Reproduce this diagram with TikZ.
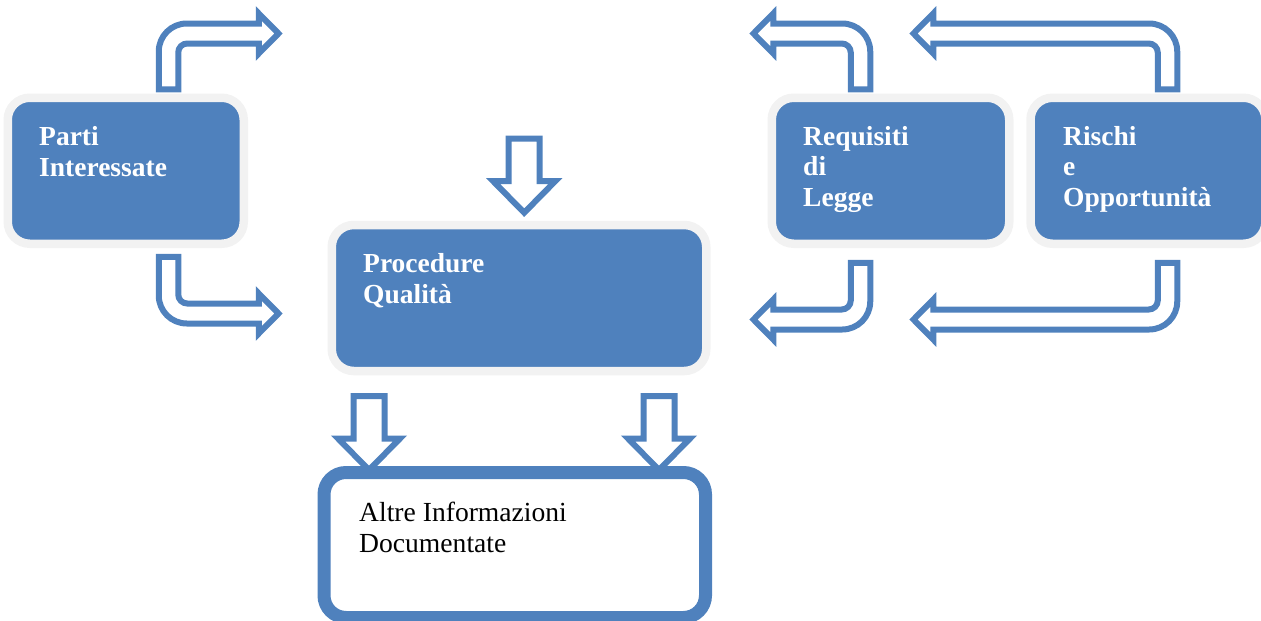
\documentclass[tikz,border=0pt]{standalone}
\usepackage{fontspec}
\setmainfont{Liberation Serif}
\definecolor{ofblue}{HTML}{4F81BD}
\definecolor{halo}{HTML}{F2F2F2}
\tikzset{
  fillbox/.style={rectangle, rounded corners=22pt, fill=ofblue, draw=halo,
    line width=8.5pt, minimum height=146pt, inner sep=0pt},
  docbox/.style={rectangle, rounded corners=22pt, fill=white, draw=ofblue,
    line width=13pt, inner sep=0pt},
  blockarrow/.style={draw=ofblue, fill=white, line width=6pt, line join=miter},
  % labels are placed by the baseline of their last line
  boxtext/.style={text=white, font=\bfseries\fontsize{27.5}{30.5}\selectfont,
    align=left, inner sep=0pt, anchor=base west},
  doctext/.style={text=black, font=\fontsize{27.6}{31}\selectfont,
    align=left, inner sep=0pt, anchor=base west},
  downarrow/.pic={
    \draw[blockarrow] (-15.5,0) -- (15.5,0) -- (15.5,42.5) -- (31,42.5)
      -- (0,74) -- (-31,42.5) -- (-15.5,42.5) -- cycle;
  }
}
\begin{document}
\begin{tikzpicture}[x=1pt, y=-1pt]
\useasboundingbox (0,0) rectangle (1261,621);

% boxes
\node[fillbox, minimum width=236pt]   (parti) at (125.75,170.75) {};
\node[fillbox, minimum width=374.5pt] (proc)  at (519,298) {};
\node[fillbox, minimum width=237.5pt] (req)   at (890.5,170.75) {};
\node[fillbox, minimum width=235pt]   (risk)  at (1148,170.75) {};

% labels
\node[boxtext] (tparti) at (39,176)   {Parti\\Interessate};
\node[boxtext] (tproc)  at (363,303)  {Procedure\\Qualità};
\node[boxtext] (treq)   at (803,206)  {Requisiti\\di\\Legge};
\node[boxtext] (trisk)  at (1063,206) {Rischi\\e\\Opportunità};

% bent arrows, left side
\draw[blockarrow] (178.25,89.25) -- (158.75,89.25) -- (158.75,51.5)
  .. controls (158.75,36.04) and (171.29,23.5) .. (186.75,23.5)
  -- (258.75,23.5) -- (258.75,13.5) -- (278.5,33.5) -- (258.75,53.5)
  -- (258.75,43.5) -- (187.25,43.5)
  .. controls (182.28,43.5) and (178.25,47.53) .. (178.25,52.5) -- cycle;
\draw[blockarrow] (158.75,256.75) -- (178.25,256.75) -- (178.25,294.5)
  .. controls (178.25,299.5) and (182.3,303.5) .. (187.25,303.5)
  -- (258.75,303.5) -- (258.75,293.5) -- (278.5,313.5) -- (258.75,333.5)
  -- (258.75,323.5) -- (186.75,323.5)
  .. controls (171.3,323.5) and (158.75,311) .. (158.75,295.5) -- cycle;

% bent arrows, right side
\draw[blockarrow] (850.75,89.25) -- (870.25,89.25) -- (870.25,51.5)
  .. controls (870.25,36.04) and (857.71,23.5) .. (842.25,23.5)
  -- (773.25,23.5) -- (773.25,13.5) -- (753.5,33.5) -- (773.25,53.5)
  -- (773.25,43.5) -- (841.75,43.5)
  .. controls (846.72,43.5) and (850.75,47.53) .. (850.75,52.5) -- cycle;
\draw[blockarrow] (1157.75,89.25) -- (1177.25,89.25) -- (1177.25,51.5)
  .. controls (1177.25,36.04) and (1164.71,23.5) .. (1149.25,23.5)
  -- (933.25,23.5) -- (933.25,13.5) -- (913.5,33.5) -- (933.25,53.5)
  -- (933.25,43.5) -- (1148.75,43.5)
  .. controls (1153.72,43.5) and (1157.75,47.53) .. (1157.75,52.5) -- cycle;
\draw[blockarrow] (850.75,262.75) -- (870.25,262.75) -- (870.25,301.5)
  .. controls (870.25,316.96) and (857.71,329.5) .. (842.25,329.5)
  -- (773.25,329.5) -- (773.25,339.5) -- (753.5,319.5) -- (773.25,299.5)
  -- (773.25,309.5) -- (841.75,309.5)
  .. controls (846.72,309.5) and (850.75,305.47) .. (850.75,300.5) -- cycle;
\draw[blockarrow] (1157.75,262.75) -- (1177.25,262.75) -- (1177.25,301.5)
  .. controls (1177.25,316.96) and (1164.71,329.5) .. (1149.25,329.5)
  -- (933.25,329.5) -- (933.25,339.5) -- (913.5,319.5) -- (933.25,299.5)
  -- (933.25,309.5) -- (1148.75,309.5)
  .. controls (1153.72,309.5) and (1157.75,305.47) .. (1157.75,300.5) -- cycle;

% straight arrows
\pic at (524.2,138.7) {downarrow};
\pic at (369,396) {downarrow};
\pic at (659,396) {downarrow};

% documented information box
\node[docbox, minimum width=381.5pt, minimum height=145pt] (docs) at (514.75,545) {};
\node[doctext] (tdocs) at (359,552) {Altre Informazioni\\Documentate};
\end{tikzpicture}
\end{document}
